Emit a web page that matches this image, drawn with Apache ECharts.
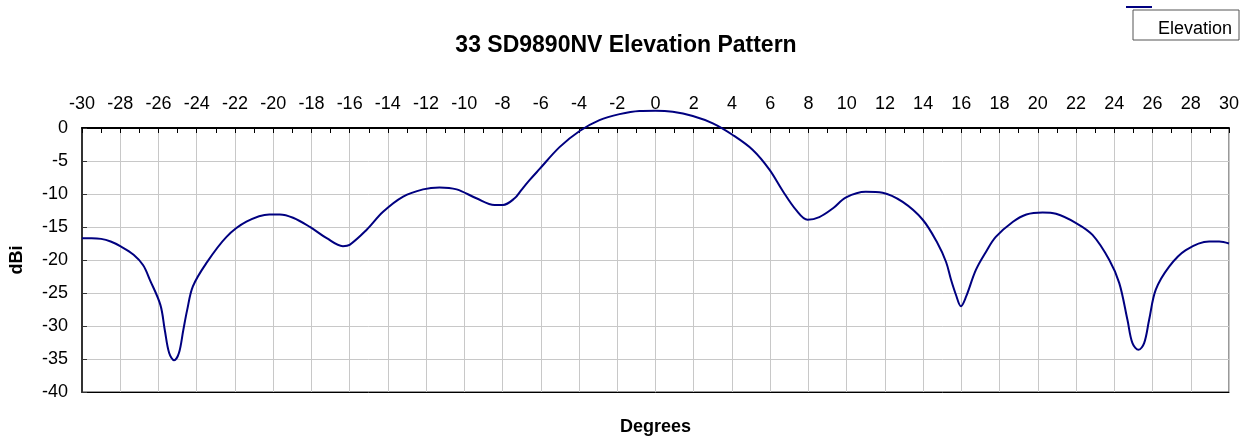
<!DOCTYPE html>
<html>
<head>
<meta charset="utf-8">
<script src="https://cdn.jsdelivr.net/npm/echarts@6/dist/echarts.min.js"></script>
<style>
html,body{margin:0;padding:0;background:#fff;}
#chart{width:1251px;height:439px;}
</style>
</head>
<body>
<div id="chart"></div>
<script>
var chartTitle = '33 SD9890NV Elevation Pattern';
var seriesName = 'Elevation';
var xName = 'Degrees';
var yName = 'dBi';

var degrees = [
  -30, -29.5, -29, -28.5, -28, -27.3, -26.8, -26.45, -25.9, -25.67, -25.44, -25.18,
  -24.93, -24.7, -24.5, -24.2, -23.5, -22.44, -21.4, -20.2, -19.65, -18.96, -18.1,
  -17.2, -16.35, -16.0, -15.12, -14.25, -13.2, -12.16, -11.3, -10.4, -9.37, -8.42,
  -7.98, -7.37, -7.02, -6.59, -6.06, -5.02, -3.97, -2.93, -1.88, -0.84, 0, 0.9, 1.95,
  3.0, 4.04, 5.09, 5.96, 6.65, 7.35, 7.96, 8.57, 9.27, 9.97, 11.0, 11.88, 12.93,
  13.98, 14.76, 15.2, 15.46, 15.72, 15.98, 16.24, 16.76, 17.3, 17.8, 18.7, 19.4,
  20.25, 20.95, 22.0, 22.86, 23.74, 24.26, 24.69, 24.95, 25.27, 25.56, 25.82, 26.17,
  26.87, 27.74, 28.96, 29.49, 30
];
var elevation = [
  -16.7, -16.7, -16.8, -17.2, -17.9, -19.2, -20.8, -23.0, -26.8, -30.6, -34.1, -35.2,
  -34.1, -30.6, -27.6, -24.0, -20.5, -16.5, -14.2, -13.1, -13.1, -13.6, -14.95,
  -16.7, -17.9, -17.7, -15.45, -12.7, -10.4, -9.3, -9.0, -9.3, -10.65, -11.67,
  -11.67, -10.65, -9.4, -7.9, -6.2, -2.9, -0.45, 1.2, 2.1, 2.58, 2.63, 2.47, 1.82,
  0.7, -1.06, -3.33, -6.3, -9.5, -12.4, -13.9, -13.5, -12.2, -10.5, -9.65, -9.8, -11.2,
  -13.9, -17.5, -20.3, -23.0, -25.3, -27.0, -25.6, -21.5, -18.7, -16.5, -14.2, -13.1,
  -12.8, -13.0, -14.4, -16.2, -20.0, -23.5, -29.1, -32.6, -33.6, -32.6, -29.1, -24.5,
  -21.0, -18.5, -17.2, -17.2, -17.5
];
var xMin = -30, xMax = 30, xStep = 2;
var yMin = -40, yMax = 0, yStep = 5;

var points = degrees.map(function (d, i) { return [d, elevation[i]]; });
var font = 'Liberation Sans, Arial, sans-serif';

var chart = echarts.init(document.getElementById('chart'), null, {renderer: 'canvas'});
chart.setOption({
  animation: false,
  backgroundColor: '#ffffff',
  title: {
    text: chartTitle,
    left: 621, top: 29, textAlign: 'center',
    textStyle: {fontFamily: font, fontSize: 23, fontWeight: 'bold', color: '#000'}
  },
  legend: {
    data: [seriesName],
    right: 14, top: 15,
    itemWidth: 1, itemHeight: 1, itemGap: 0,
    itemStyle: {color: 'transparent', opacity: 0},
    lineStyle: {opacity: 0},
    textStyle: {fontFamily: font, fontSize: 18, color: '#000'}
  },
  graphic: [
    {type: 'rect', shape: {x: 1133, y: 10, width: 106, height: 30},
     style: {fill: 'none', stroke: '#555', lineWidth: 1}, z: 10, silent: true},
    {type: 'line', shape: {x1: 1126, y1: 7, x2: 1152, y2: 7},
     style: {stroke: '#000080', lineWidth: 2}, z: 10, silent: true}
  ],
  grid: {left: 82, right: 22, top: 128, bottom: 47, outerBoundsMode: 'none', containLabel: false,
         show: true, borderColor: '#333', borderWidth: 1, backgroundColor: 'transparent'},
  xAxis: [
    {
      type: 'value', position: 'top', min: xMin, max: xMax, interval: xStep,
      axisLine: {show: true, onZero: false, lineStyle: {color: '#000', width: 2}},
      axisTick: {show: true, inside: true, length: 5, lineStyle: {color: '#000'}},
      minorTick: {show: true, splitNumber: 2, length: 5, lineStyle: {color: '#000'}},
      axisLabel: {fontFamily: font, fontSize: 18, color: '#000', margin: 15},
      splitLine: {show: true, lineStyle: {color: '#c8c8c8', width: 1}}
    },
    {
      type: 'value', position: 'bottom', min: xMin, max: xMax, interval: xStep,
      name: xName, nameLocation: 'middle', nameGap: 26,
      nameTextStyle: {fontFamily: font, fontSize: 18, fontWeight: 'bold', color: '#000'},
      axisLine: {show: true, onZero: false, lineStyle: {color: '#000', width: 1}},
      axisTick: {show: false}, axisLabel: {show: false}, splitLine: {show: false}
    }
  ],
  yAxis: {
    type: 'value', min: yMin, max: yMax, interval: yStep,
    name: yName, nameLocation: 'middle', nameGap: 56, nameRotate: 90,
    nameTextStyle: {fontFamily: font, fontSize: 18, fontWeight: 'bold', color: '#000'},
    axisLine: {show: true, onZero: false, lineStyle: {color: '#333', width: 2}},
    axisTick: {show: true, inside: true, length: 5, lineStyle: {color: '#333'}},
    axisLabel: {fontFamily: font, fontSize: 18, color: '#000', margin: 14},
    splitLine: {show: true, lineStyle: {color: '#c8c8c8', width: 1}}
  },
  series: [{
    name: seriesName, type: 'line', xAxisIndex: 0, data: points, clip: false,
    smooth: 0.35, showSymbol: false, symbol: 'none',
    lineStyle: {color: '#000080', width: 2}, itemStyle: {color: '#000080'}
  }]
});
</script>
</body>
</html>
